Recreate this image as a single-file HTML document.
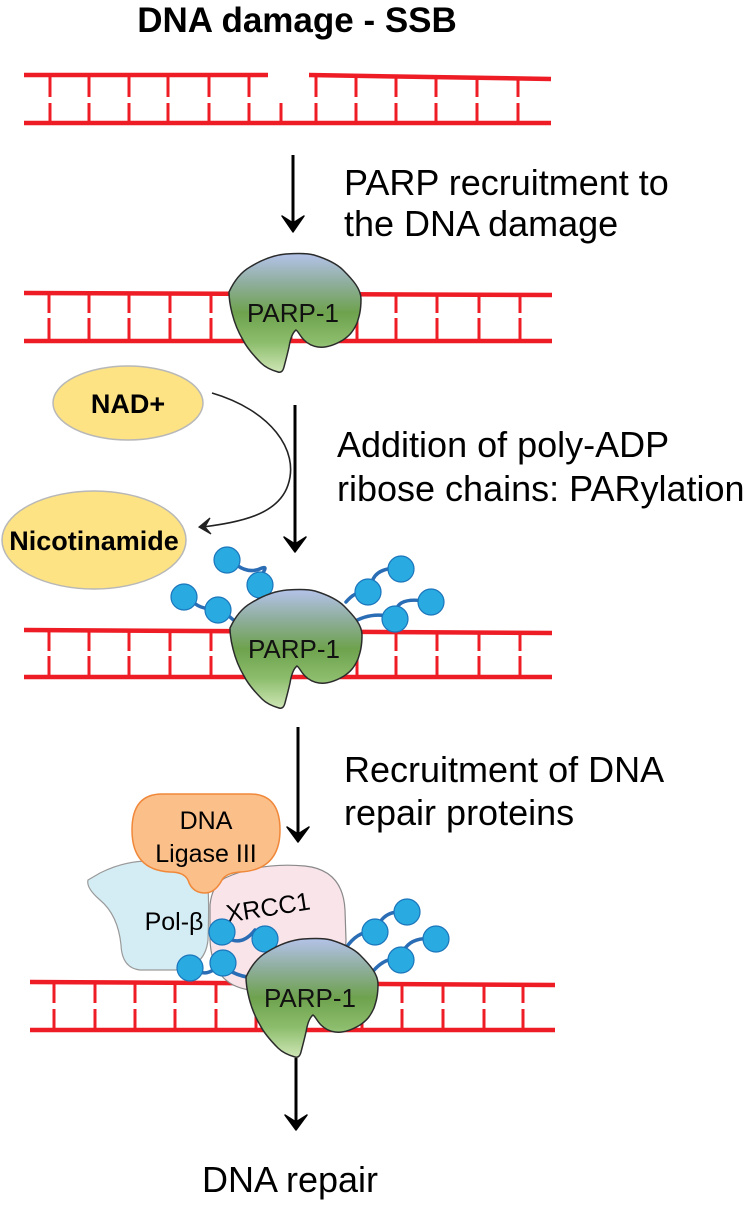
<!DOCTYPE html>
<html><head><meta charset="utf-8"><style>
html,body{margin:0;padding:0;background:#fff;}
svg{display:block;}
text{font-family:"Liberation Sans",Arial,sans-serif;}
</style></head><body>
<svg width="750" height="1208" viewBox="0 0 750 1208" xmlns="http://www.w3.org/2000/svg">
<defs>
<linearGradient id="pg" x1="0" y1="0" x2="0" y2="1">
<stop offset="0" stop-color="#b4c3ea"/>
<stop offset="0.25" stop-color="#8fae9c"/>
<stop offset="0.5" stop-color="#6ea24d"/>
<stop offset="0.75" stop-color="#8cbd6c"/>
<stop offset="1" stop-color="#cfe6b6"/>
</linearGradient>
<g id="parp">
<path d="M0,39 C6,26 14,18 21,14 C34,6 45,2 57,1 C70,0 78,0 85,2 C98,6 108,11 114,17 C124,27 132,36 132,46 C132,58 130,64 128,70 C124,79 120,83 114,87 C104,93 96,95 89,94 C82,93 78,90 75,87 C71,83 69,78 67,77 C63,80 61,88 60,94 C58,103 56,110 55,114 C54,118 52,120 49,119 C42,117 36,114 32,110 C24,102 18,95 14,87 C8,77 5,68 3,60 C1,52 0,45 0,39 Z" fill="url(#pg)" stroke="#2b2b2b" stroke-width="1.5"/>
<text x="64" y="69" font-size="26" text-anchor="middle" fill="#111">PARP-1</text>
</g>
<g id="bead"><circle r="13" fill="#29abe2" stroke="#1b75bb" stroke-width="1.2"/></g>
</defs>

<!-- Title -->
<text x="297" y="32" font-size="35" font-weight="bold" text-anchor="middle" fill="#000">DNA damage - SSB</text>

<!-- DNA 1 -->
<g stroke="#ee1c25" fill="none">
<line x1="24" y1="75" x2="268" y2="75" stroke-width="4.5"/>
<line x1="309" y1="75" x2="551" y2="79" stroke-width="4.5"/>
<line x1="24" y1="123" x2="551" y2="123" stroke-width="4.5"/>
<g stroke-width="3">
<path d="M50,75V97M50,103V123M89,75V97M89,103V123M129,75V97M129,103V123M168,75V97M168,103V123M209,75V97M209,103V123M249,75V97M249,103V123M281,103V123M316,76V97M316,103V123M356,76V97M356,103V123M396,77V97M396,103V123M436,78V97M436,103V123M477,78V97M477,103V123M518,79V97M518,103V123"/>
</g>
</g>

<!-- Arrow 1 -->
<line x1="293" y1="155" x2="293" y2="226" stroke="#000" stroke-width="3"/>
<path d="M282,216 L293,232 L304,216 L293,223 Z" fill="#000" stroke="#000" stroke-width="1.5" stroke-linejoin="round"/>
<text x="344" y="195" font-size="36" fill="#000">PARP recruitment to</text>
<text x="344" y="236" font-size="36" fill="#000">the DNA damage</text>

<!-- DNA 2 -->
<g stroke="#ee1c25" fill="none">
<line x1="24" y1="293" x2="552" y2="295" stroke-width="4.5"/>
<line x1="24" y1="341" x2="552" y2="341" stroke-width="4.5"/>
<path stroke-width="3" d="M49,293V313M49,318V341M89,293V313M89,318V341M129,293V313M129,318V341M170,293V313M170,318V341M211,293V313M211,318V341M251,293V341M291,293V341M331,293V341M357,294V313M357,318V341M396,294V313M396,318V341M437,294V313M437,318V341M479,295V313M479,318V341M520,295V313M520,318V341"/>
</g>
<use href="#parp" x="229" y="253"/>

<!-- NAD+ / Nicotinamide -->
<ellipse cx="128" cy="403" rx="75" ry="37" fill="#fde384" stroke="#b8b8b8" stroke-width="1.5"/>
<text x="128" y="413" font-size="27" font-weight="bold" text-anchor="middle">NAD+</text>
<ellipse cx="94" cy="540" rx="92" ry="49" fill="#fde384" stroke="#b8b8b8" stroke-width="1.5"/>
<text x="94" y="550" font-size="27" font-weight="bold" text-anchor="middle">Nicotinamide</text>
<path d="M212,393 C270,410 300,450 288,485 C278,515 240,522 203,527" fill="none" stroke="#222" stroke-width="1.6"/>
<path d="M210,518 L199,527 L211,534 L205,527 Z" fill="#222" stroke="#222" stroke-width="1.2"/>

<!-- Arrow 2 -->
<line x1="295" y1="405" x2="295" y2="546" stroke="#000" stroke-width="3"/>
<path d="M284,537 L295,552 L306,537 L295,544 Z" fill="#000" stroke="#000" stroke-width="1.5" stroke-linejoin="round"/>
<text x="337" y="457" font-size="36" fill="#000">Addition of poly-ADP</text>
<text x="337" y="501" font-size="36" fill="#000">ribose chains: PARylation</text>

<!-- DNA 3 -->
<g stroke="#ee1c25" fill="none">
<line x1="24" y1="630" x2="552" y2="633" stroke-width="4.5"/>
<line x1="24" y1="677" x2="552" y2="677" stroke-width="4.5"/>
<path stroke-width="3" d="M49,630V651M49,656V677M89,630V651M89,656V677M129,630V651M129,656V677M170,630V651M170,656V677M211,630V651M211,656V677M251,630V677M291,630V677M331,630V677M357,631V651M357,656V677M396,631V651M396,656V677M437,632V651M437,656V677M479,632V651M479,656V677M520,633V651M520,656V677"/>
</g>
<!-- chains 3 -->
<g fill="none" stroke="#2a6db5" stroke-width="3.5" stroke-linecap="round">
<path d="M238,566 Q250,574 262,568 Q268,566 262,574"/>
<path d="M194,603 Q206,612 218,606"/>
<path d="M228,615 Q238,626 250,624"/>
<path d="M268,596 Q272,606 278,604"/>
<path d="M346,602 Q356,590 368,592"/>
<path d="M372,582 Q376,568 398,568"/>
<path d="M350,624 Q372,610 395,618"/>
<path d="M396,610 Q400,596 430,602"/>
</g>
<use href="#bead" x="227" y="560"/>
<use href="#bead" x="260" y="585"/>
<use href="#bead" x="184" y="597"/>
<use href="#bead" x="218" y="610"/>
<use href="#bead" x="401" y="569"/>
<use href="#bead" x="368" y="592"/>
<use href="#bead" x="431" y="602"/>
<use href="#bead" x="395" y="619"/>
<use href="#parp" x="230" y="589"/>

<!-- Arrow 3 -->
<line x1="298" y1="727" x2="298" y2="836" stroke="#000" stroke-width="3"/>
<path d="M287,827 L298,842 L309,827 L298,834 Z" fill="#000" stroke="#000" stroke-width="1.5" stroke-linejoin="round"/>
<text x="344" y="782" font-size="36" fill="#000">Recruitment of DNA</text>
<text x="344" y="825" font-size="36" fill="#000">repair proteins</text>

<!-- DNA 4 -->
<g stroke="#ee1c25" fill="none">
<line x1="30" y1="982" x2="555" y2="985" stroke-width="4.5"/>
<line x1="30" y1="1030" x2="555" y2="1030" stroke-width="4.5"/>
<path stroke-width="3" d="M54,982V1003M54,1009V1030M95,982V1003M95,1009V1030M135,982V1003M135,1009V1030M175,982V1003M175,1009V1030M216,982V1003M216,1009V1030M256,982V1030M296,982V1030M336,982V1030M362,983V1003M362,1009V1030M402,984V1003M402,1009V1030M443,984V1003M443,1009V1030M484,985V1003M484,1009V1030M523,985V1003M523,1009V1030"/>
</g>
<!-- repair proteins -->
<path d="M100,873 Q130,858 160,862 L205,868 Q210,880 208,940 Q205,968 175,970 L140,970 Q122,968 121,945 Q118,915 100,900 Q86,888 88,880 Z" fill="#d4edf4" stroke="#9a9a9a" stroke-width="1.2"/>
<path d="M225,878 Q260,862 305,866 Q343,870 345,910 L346,940 Q345,982 300,990 L250,990 Q212,985 210,940 L210,905 Q212,885 225,878 Z" fill="#f9e4ea" stroke="#8a8a8a" stroke-width="1.2"/>
<path d="M162,794 H250 Q280,794 280,830 Q280,870 240,872 Q226,873 222,880 Q215,893 205,893 Q192,893 188,880 Q184,872 170,872 Q132,870 132,830 Q132,794 162,794 Z" fill="#fbbf8a" stroke="#f0883a" stroke-width="1.5"/>
<text x="206" y="829" font-size="25" text-anchor="middle">DNA</text>
<text x="206" y="862" font-size="25" text-anchor="middle">Ligase III</text>
<text x="174" y="930" font-size="25" text-anchor="middle">Pol-β</text>
<text x="268" y="916" font-size="25" text-anchor="middle" transform="rotate(-9 268 907)">XRCC1</text>

<!-- chains 4 -->
<g fill="none" stroke="#2a6db5" stroke-width="3.5" stroke-linecap="round">
<path d="M232,940 Q244,944 255,930"/>
<path d="M200,972 Q210,976 222,962"/>
<path d="M232,972 Q248,980 262,976"/>
<path d="M275,946 Q285,955 300,950"/>
<path d="M346,948 Q358,930 375,932"/>
<path d="M380,922 Q388,910 405,912"/>
<path d="M370,975 Q385,955 401,960"/>
<path d="M404,950 Q412,936 436,939"/>
</g>
<use href="#bead" x="222" y="932"/>
<use href="#bead" x="265" y="939"/>
<use href="#bead" x="190" y="968"/>
<use href="#bead" x="223" y="963"/>
<use href="#bead" x="407" y="912"/>
<use href="#bead" x="375" y="932"/>
<use href="#bead" x="436" y="939"/>
<use href="#bead" x="401" y="960"/>
<use href="#parp" x="246" y="938"/>

<!-- final arrow -->
<line x1="296" y1="1058" x2="296" y2="1124" stroke="#000" stroke-width="3"/>
<path d="M285,1115 L296,1130 L307,1115 L296,1122 Z" fill="#000" stroke="#000" stroke-width="1.5" stroke-linejoin="round"/>
<text x="290" y="1192" font-size="36" text-anchor="middle">DNA repair</text>
</svg>
</body></html>
